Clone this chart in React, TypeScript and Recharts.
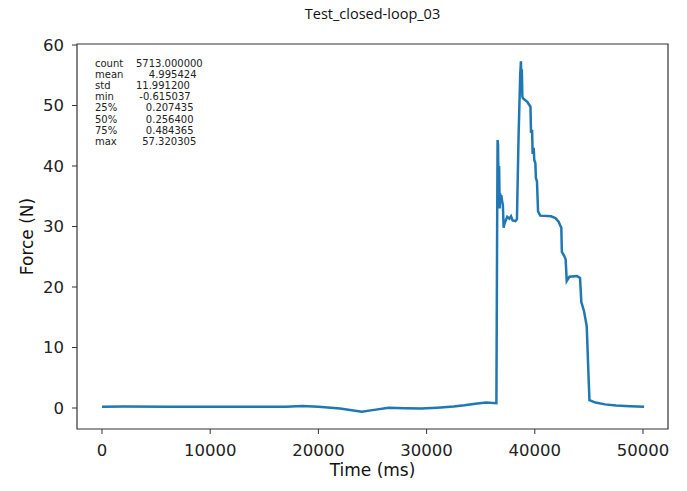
import React from 'react';
import { LineChart, Line, XAxis, YAxis, ReferenceArea } from 'recharts';

const timeMs = [
  0, 2000, 6000, 12000, 17000, 18500, 20000, 22000, 24000, 25000, 26500, 28000, 29500, 31000, 32500, 33500, 34500, 35500, 36450,
  36520, 36560, 36600, 36650, 36700, 36750, 36800, 36850, 36900, 36950, 37050, 37120, 37200, 37450, 37650, 37800, 37950, 38200, 38350,
  38500, 38650, 38720, 38760, 38800, 38850, 38900, 39300, 39600, 39650, 39750, 39800, 39900, 39950, 40050, 40100, 40200, 40300, 40500,
  41500, 41900, 42200, 42450, 42500, 42700, 42850, 42950, 43200, 43900, 44180, 44300, 44550, 44800, 44950, 45050, 45600, 46500, 47500, 48800, 50100,
];
const forceN = [
  0.2, 0.25, 0.2, 0.2, 0.2, 0.35, 0.2, -0.1, -0.6, -0.35, 0.05, -0.05, -0.1, 0.05, 0.25, 0.45, 0.7, 0.9, 0.8,
  30, 44.3, 43.5, 36, 40, 33, 35.5, 34, 35.2, 34.5, 33.5, 29.8, 30.5, 31.6, 31.3, 31.7, 31.0, 30.9, 31.2,
  45, 55, 57.3, 53, 56, 51.5, 51.2, 50.6, 49.8, 45.5, 46, 42, 43, 41, 40.5, 38, 37.5, 32.5, 31.8,
  31.7, 31.4, 30.8, 29.8, 25.8, 25.2, 24.6, 21.0, 21.7, 21.8, 21.5, 17.5, 16, 13.5, 6, 1.3, 0.9, 0.6, 0.4, 0.3, 0.2,
];
const xTicks = [0, 10000, 20000, 30000, 40000, 50000];
const yTicks = [0, 10, 20, 30, 40, 50, 60];
const statLabels = ['count', 'mean', 'std', 'min', '25%', '50%', '75%', 'max'];
const statValues = ['5713.000000', '4.995424', '11.991200', '-0.615037', '0.207435', '0.256400', '0.484365', '57.320305'];
const statLines = [
  'count    5713.000000',
  'mean        4.995424',
  'std        11.991200',
  'min        -0.615037',
  '25%         0.207435',
  '50%         0.256400',
  '75%         0.484365',
  'max        57.320305',
];
const title = 'Test_closed-loop_03';
const xLabel = 'Time (ms)';
const yLabel = 'Force (N)';

const data = timeMs.map((t, i) => ({ t, f: forceN[i] }));

const FONT = 'DejaVu Sans, sans-serif';

const Decorations = (props: any) => {
  const vb = props.viewBox || { x: 77, y: 44, width: 591, height: 385 };
  const cx = vb.x + vb.width / 2;
  const cy = vb.y + vb.height / 2;
  return (
    <g>
      <text x={cx} y={18.5} textAnchor="middle" fontFamily="Open Sans, sans-serif" fontSize={14.5} fill="#111">
        {title}
      </text>
      <text x={cx} y={vb.y + vb.height + 47} textAnchor="middle" fontFamily={FONT} fontSize={17} fill="#111">
        {xLabel}
      </text>
      <text
        x={33}
        y={cy}
        textAnchor="middle"
        fontFamily={FONT}
        fontSize={17}
        fill="#111"
        transform={`rotate(-90 33 ${cy})`}
      >
        {yLabel}
      </text>
      {statLabels.map((lab, i) => (
        <text
          key={lab}
          x={vb.x + 18}
          y={vb.y + 22.5 + i * 11.2}
          fontFamily={FONT}
          fontSize={10}
          fill="#222"
          style={{ whiteSpace: 'pre' }}
        >
          {statLines[i] || `${lab} ${statValues[i]}`}
        </text>
      ))}
    </g>
  );
};

export default function App() {
  return (
    <div style={{ position: 'absolute', left: 0, top: 0, width: 687, height: 491, background: '#fff' }}>
      <LineChart width={687} height={491} data={data} margin={{ top: 44, right: 19, bottom: 22, left: 0 }}>
        <XAxis
          dataKey="t"
          type="number"
          domain={[-2310, 52310]}
          ticks={xTicks}
          allowDataOverflow
          height={40}
          tickSize={5}
          tickMargin={10}
          axisLine={false}
          tickLine={{ stroke: '#333' }}
          tick={{ fill: '#222', fontSize: 16.5, fontFamily: FONT }}
          interval={0}
        />
        <YAxis
          type="number"
          domain={[-3.47, 60.17]}
          ticks={yTicks}
          allowDataOverflow
          width={77}
          tickSize={5}
          tickMargin={8}
          axisLine={false}
          tickLine={{ stroke: '#333' }}
          tick={{ fill: '#222', fontSize: 16.5, fontFamily: FONT }}
          interval={0}
        />
        <Line
          type="linear"
          dataKey="f"
          stroke="#1f77b4"
          strokeWidth={2.5}
          dot={false}
          isAnimationActive={false}
        />
        <ReferenceArea
          x1={-2310}
          x2={52310}
          y1={-3.47}
          y2={60.17}
          ifOverflow="visible"
          fill="none"
          fillOpacity={0}
          stroke="#333"
          strokeWidth={1.2}
          label={(p: any) => <Decorations {...p} />}
        />
      </LineChart>
    </div>
  );
}
